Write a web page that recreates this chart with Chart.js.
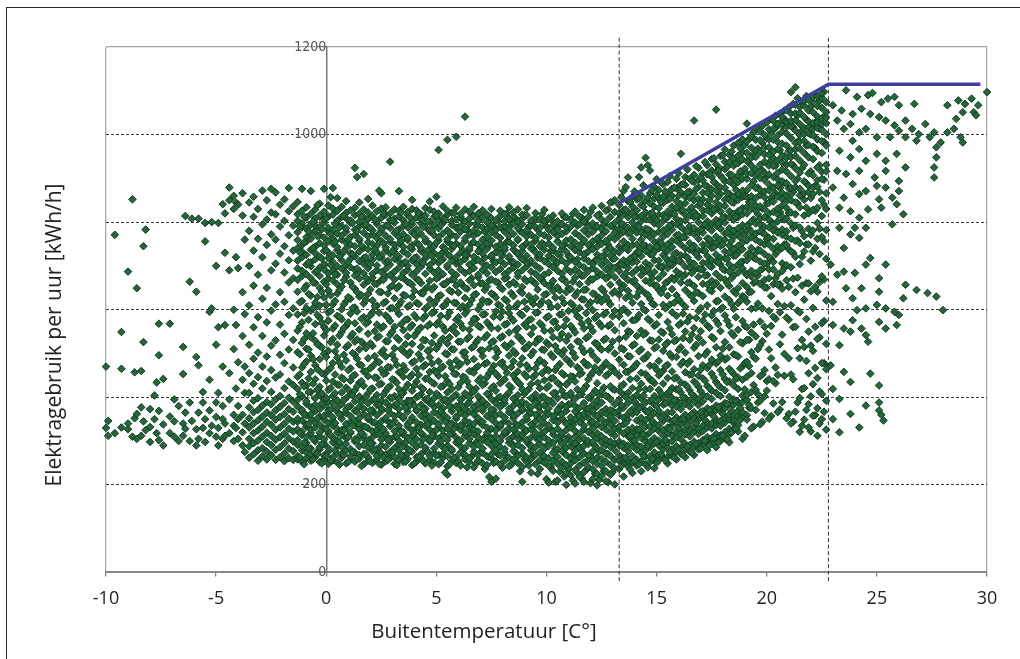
<!DOCTYPE html>
<html><head><meta charset="utf-8">
<script src="https://cdn.jsdelivr.net/npm/chart.js@4.4.1/dist/chart.umd.min.js"></script>
<style>
html,body{margin:0;padding:0;background:#fff;overflow:hidden}
#wrap{position:relative;width:1020px;height:659px}
#frame{position:absolute;left:6px;top:7px;width:1100px;height:800px;border-left:1.5px solid #2a2a2a;border-top:1.5px solid #2a2a2a;pointer-events:none}
canvas{position:absolute;left:0;top:0}
</style></head><body>
<div id="wrap"><canvas id="c" width="1020" height="659"></canvas><div id="frame"></div></div>
<script>
// ---- tick labels / titles ----
const tempTicks = [-10,-5,0,5,10,15,20,25,30];
const usageTicks = [0,200,400,600,800,1000,1200];
const xTitleText = 'Buitentemperatuur [C°]';
const yTitleText = 'Elektragebruik per uur [kWh/h]';

// ---- reference lines ----
const kneeTemps = [13.3, 22.8];
const fitTemps = [13.3, 22.8, 29.7];
const fitUsage = [843, 1115, 1115];

// ---- observations: each row = [temperature, usage, usage, ...] ----
const obsColdSparse = [
[-10.0,470,330],[-9.9,346,312],[-9.6,771,318],[-9.3,549,331,465],[-9.0,687,327,340],
[-8.8,852,310],[-8.7,457,352],[-8.6,649,305,362],[-8.4,377,312,460],[-8.3,745,526,345],
[-8.2,783,325],[-8.0,373,298,332],[-7.8,404,350],[-7.7,434,318],[-7.6,568,496,369,302],
[-7.4,442,338,290],[-7.1,568,356,318],[-6.9,310,345,395],[-6.7,380,300],[-6.5,453,515,340,312],
[-6.4,814,328,365],[-6.2,664,388,300],[-6.1,808,346],[-5.9,641,492,327,290],[-5.8,473,365,305,808],
[-5.6,388,330,412],[-5.5,756,798,350,298],[-5.3,595,440,318,370],[-5.2,603,800,335],
[-5.0,520,388,310,355,700],[-4.9,798,560,410,330,290],[-4.7,841,470,350,305,380],
[-4.6,565,730,820,340,312],[-4.4,879,850,690,455,395,318],[-4.2,860,830,600,510,360,300,335],
[-4.1,565,720,845,420,330],[-4.0,840,695,480,380,305,350],[-3.8,866,815,640,540,440,360,320,290],
[-3.7,760,590,470,410,340,275]
];
const obsColdBand = [
[-3.5,262,288,305,331,352,377,410,455,520,610,700,780,845],
[-3.3,270,295,318,340,366,392,431,488,560,655,735,812,858],
[-3.1,255,279,301,324,347,371,398,446,502,583,680,762,830],
[-2.9,265,284,310,333,356,381,420,470,540,625,720,795,872],
[-2.7,258,276,298,319,344,365,389,437,493,571,650,748,806,850],
[-2.5,268,291,312,337,359,384,412,462,518,598,690,772,822,876],
[-2.3,257,280,303,326,349,370,395,445,530,612,705,760,818,868],
[-2.1,263,286,309,331,355,378,403,452,497,566,640,728,790,840],
[-1.9,254,272,295,317,340,362,387,421,478,545,618,685,745,803,852],
[-1.7,261,283,306,328,351,373,399,436,509,588,662,713,770,825,878],
[-1.5,257,277,299,322,344,367,390,428,468,531,603,672,735,792,836]
];
const obsMildA = [
[-1.3,258,266,291,302,327,344,351,379,394,419,447,503,552,589,641,668,694,712,741,759,777,803,818,846],
[-1.1,253,279,288,314,322,347,366,371,402,433,468,524,571,620,677,689,720,733,748,788,797,826,876],
[-0.9,261,274,296,309,333,338,359,385,391,427,482,511,546,603,655,681,703,725,756,766,785,811,834],
[-0.7,255,269,283,318,326,352,361,377,412,458,495,537,598,632,672,699,708,737,762,773,794,819,871],
[-0.5,264,272,299,305,331,342,368,383,398,441,473,529,567,616,661,686,715,729,744,781,792,808,829],
[-0.3,252,281,286,311,319,337,356,373,405,424,487,518,582,609,650,677,696,721,752,770,789,815,842],
[-0.1,259,267,293,304,329,349,358,381,396,453,499,541,560,628,664,692,704,734,747,765,799,806,824,876],
[0.1,248,276,284,316,323,341,363,370,389,417,462,506,575,594,644,671,683,718,730,757,779,787,813,838],
[0.3,256,263,297,308,335,346,354,387,403,436,478,533,557,612,667,689,709,724,751,763,782,817,831,878],
[0.5,251,272,289,301,319,328,367,376,393,429,491,520,586,637,658,680,699,736,743,774,795,803,826,855],
[0.7,262,270,286,313,325,351,360,384,411,445,469,549,578,601,653,694,713,727,760,769,791,812,835],
[0.9,249,278,294,307,332,339,364,372,398,422,484,514,563,619,675,684,702,740,753,778,786,809,821,848],
[1.1,257,265,282,318,321,344,357,380,407,438,466,538,591,625,662,697,716,729,749,766,798,804,827],
[1.3,253,274,299,304,336,347,369,391,416,451,497,527,569,605,648,678,691,722,745,771,783,816,833,924],
[1.5,260,268,288,311,327,340,352,378,402,433,475,509,555,630,671,688,711,733,758,762,790,801,819,845],
[1.7,247,271,291,306,314,333,362,374,397,426,459,521,583,614,657,683,705,718,741,776,793,811,829,910],
[1.9,255,263,285,302,329,350,355,386,409,448,489,545,572,636,665,695,707,738,754,767,788,807,822,853],
[2.1,250,277,295,309,322,343,366,371,394,420,471,517,594,621,673,682,714,726,750,772,781,814,838],
[2.3,258,266,281,316,326,338,359,383,405,444,481,536,566,609,659,690,701,731,746,763,796,802,825],
[2.5,246,272,290,303,331,345,368,375,392,431,463,502,558,640,668,686,719,724,757,779,785,810,831,866],
[2.7,254,269,287,312,318,349,353,388,414,455,493,528,587,618,676,693,708,735,742,769,792,817,834],
[2.9,261,275,298,305,334,341,364,379,399,425,468,543,574,603,651,679,703,728,755,761,787,805,820,938],
[3.1,248,264,284,310,323,346,357,381,403,439,486,512,561,626,669,687,716,739,748,775,799,808,829],
[3.3,256,279,293,301,328,335,361,373,396,418,457,531,590,611,654,696,710,721,751,766,783,813,826,871],
[3.5,252,267,289,315,320,352,356,385,410,447,472,505,553,634,672,684,706,733,744,772,791,804,835],
[3.7,259,272,282,307,333,339,367,376,392,429,496,539,578,607,663,691,700,726,759,764,788,816,823],
[3.9,245,276,296,313,324,348,354,389,415,452,479,522,565,629,657,680,713,738,747,777,795,802,830,851],
[4.1,253,263,287,304,330,343,369,371,400,436,465,547,581,616,670,688,704,720,753,768,784,811,827],
[4.3,260,270,292,317,319,337,358,383,407,423,488,515,559,638,661,698,709,734,741,773,797,807,818],
[4.5,249,278,285,309,335,350,363,374,395,442,474,530,586,602,647,682,717,725,756,762,789,815,832],
[4.7,257,265,299,302,326,341,355,387,412,458,491,508,567,623,666,694,702,737,750,779,782,801,828,847],
[4.9,251,273,283,311,321,346,366,378,398,431,461,541,595,613,652,685,711,729,745,770,793,812,824],
[5.1,247,268,294,306,332,338,359,382,404,449,482,519,572,631,674,690,707,723,758,766,786,804,820,965],
[5.3,262,271,286,314,324,349,362,375,393,426,470,534,561,608,658,681,715,732,743,774,798,809,836],
[5.5,223,242,266,290,303,329,345,353,388,411,437,498,523,584,620,664,697,701,727,755,761,781,817,826,988],
[5.7,255,277,281,318,317,340,368,377,397,419,467,510,556,641,669,686,712,739,748,771,794,803,821],
[5.9,250,263,297,308,334,351,356,380,406,453,484,546,577,615,655,679,705,720,751,767,787,806,833,995]
];
const obsMildB = [
[6.1,244,274,288,301,325,336,364,384,394,433,476,527,568,604,662,692,709,730,746,778,790,812,819],
[6.3,258,269,284,312,320,347,358,373,409,445,493,503,591,627,650,684,716,725,757,763,784,801,829,1041],
[6.5,252,261,295,305,331,342,367,389,399,424,460,538,554,612,667,688,703,736,741,772,796,808,824],
[6.7,240,276,287,316,327,339,361,378,413,456,487,516,579,633,656,695,710,721,754,769,781,814,835],
[6.9,256,268,292,309,322,348,352,385,402,438,471,532,563,601,674,680,714,733,749,775,792,803,820],
[7.1,249,273,283,302,336,344,369,376,392,428,494,507,589,622,660,691,706,728,743,760,788,811,827],
[7.3,245,265,298,313,319,331,357,383,408,446,479,542,571,618,653,683,701,739,752,766,785,800,817],
[7.5,207,261,270,289,307,328,350,365,372,396,421,463,525,558,637,669,697,719,724,758,777,793,809,830],
[7.7,214,253,280,294,311,324,341,359,387,415,454,491,511,596,628,664,686,708,731,744,771,782,805],
[7.9,247,267,286,300,333,337,362,378,401,432,477,536,583,609,651,693,712,727,750,764,789,814,826],
[8.1,255,274,282,318,321,346,354,386,394,441,468,519,566,624,671,681,704,736,742,778,791,802,818],
[8.3,243,262,296,304,329,340,366,374,411,427,495,548,592,605,657,689,717,722,755,768,783,807,834],
[8.5,258,277,288,311,326,352,358,381,397,450,482,506,575,631,663,696,709,738,747,773,797,813,823],
[8.7,250,266,291,306,316,335,363,389,405,435,459,539,557,614,676,684,703,729,759,761,786,801,829],
[8.9,207,241,272,284,314,332,343,370,373,390,418,489,528,587,638,652,690,715,734,744,776,795,808,817],
[9.1,253,263,299,303,324,349,356,384,414,447,473,513,561,602,665,699,707,723,752,767,781,816,832],
[9.3,228,259,279,290,308,327,338,364,377,398,430,496,544,578,620,668,687,712,740,749,771,792,804],
[9.5,247,268,286,312,319,345,360,388,407,452,466,524,593,627,659,682,701,731,757,763,789,810,821],
[9.7,236,256,274,293,305,333,351,367,379,395,421,485,533,569,611,672,694,718,726,745,774,787,806],
[9.9,251,265,282,309,321,341,355,382,400,439,478,508,552,634,661,680,711,737,748,770,798,803,828],
[10.1,205,243,261,289,301,330,336,362,375,392,426,461,520,585,616,654,685,704,723,751,765,782,809],
[10.3,232,255,273,296,315,322,348,357,386,409,444,492,537,572,643,666,697,716,735,742,777,793,815],
[10.5,210,248,264,281,307,328,342,366,371,398,433,470,506,559,607,651,689,708,728,756,768,784,802],
[10.7,238,253,277,292,313,318,352,361,383,415,455,498,545,590,626,670,682,713,739,747,773,796,820],
[10.9,200,226,245,268,285,302,325,339,369,378,402,429,487,529,577,640,662,693,705,732,758,779,788,811],
[11.1,222,249,260,288,299,331,346,354,385,410,448,476,515,563,615,647,686,714,720,745,761,790,806],
[11.3,203,234,256,278,295,310,323,349,368,380,397,436,491,548,596,632,673,691,709,736,753,775,799,824],
[11.5,218,244,263,286,304,317,343,359,376,405,452,464,526,581,604,658,684,702,731,742,768,795,813],
[11.7,207,229,251,271,289,306,327,335,362,387,419,481,503,557,623,645,678,697,717,727,759,781,801,828],
[11.9,241,258,267,293,300,321,353,364,374,399,441,473,539,574,610,663,688,711,733,748,772,789,812],
[12.1,213,236,254,276,298,314,329,344,370,383,407,457,496,551,599,637,669,695,704,738,756,778,797,833],
[12.3,199,225,248,262,283,307,318,338,357,379,392,432,485,522,586,621,676,687,714,726,744,763,790,815],
[12.5,220,243,259,280,297,311,332,350,366,388,414,466,509,562,618,648,680,703,721,750,770,784,806,837],
[12.7,208,231,253,271,291,303,326,341,363,373,403,449,479,534,593,629,671,692,710,735,757,779,802,826],
[12.9,223,246,266,287,299,319,337,356,371,395,425,469,514,566,612,657,685,700,724,741,765,791,812,845],
[13.1,201,238,257,279,294,312,328,346,365,384,417,458,500,553,597,642,674,696,717,732,761,776,798,823,850]
];
const obsMildMid = [
[-1.2,263,318,407,452,498,561,617,731,790],[-1.0,247,296,361,425,476,533,592,648,754,812],
[-0.8,284,339,412,443,509,577,636,708,779],[-0.6,258,305,374,431,487,546,603,662,741,801],
[-0.4,271,352,418,464,521,588,629,689,768,839],[-0.2,249,293,386,409,455,514,570,641,717,784],
[0.0,266,327,398,438,492,553,611,658,736,809],[0.2,255,313,372,421,467,526,597,633,702,773,857],
[0.4,279,341,409,452,505,564,620,681,755,796],[0.6,246,298,361,428,479,541,584,645,721,788],
[0.8,268,324,393,441,497,558,612,667,733,814],[1.0,252,309,378,417,462,519,571,629,709,761],
[1.2,275,336,404,448,501,545,604,652,727,798],[1.4,259,301,367,425,488,532,596,640,694,779,903],
[1.6,243,318,389,437,473,527,579,633,746,812],[1.8,270,332,401,459,512,568,622,673,720,795],
[2.0,254,295,370,418,466,523,587,646,704,787],[2.2,281,343,396,445,494,551,608,659,738,806],
[2.4,248,316,383,429,480,539,593,641,719,774,872],[2.6,263,327,406,453,508,562,615,668,752,819],
[2.8,257,302,371,422,469,528,582,637,711,792],[3.0,274,339,398,441,497,550,604,655,733,803],
[3.2,245,311,385,433,474,536,599,649,726,781],[3.4,268,322,409,458,510,567,619,674,757,822],
[3.6,253,297,376,421,463,521,577,632,709,796],[3.8,279,345,392,446,503,559,610,661,742,811],
[4.0,249,318,381,427,482,540,588,643,718,772],[4.2,264,330,403,451,498,555,613,668,749,820],
[4.4,256,304,373,419,470,531,580,637,706,789],[4.6,276,338,397,443,506,563,607,652,735,802],
[4.8,244,313,386,434,477,524,592,646,722,780],[5.0,267,325,408,457,511,566,621,671,753,815,858],
[5.2,251,299,368,424,466,529,586,633,712,793],[5.4,228,282,344,395,448,500,552,611,658,739,806],
[5.6,247,315,379,430,479,537,594,644,723,776],[5.8,262,328,402,454,509,561,616,669,746,821],
[6.0,253,301,374,423,471,527,583,639,707,788],[6.2,271,336,399,447,502,558,608,655,736,804],
[6.4,240,312,384,436,481,533,598,648,725,782],[6.6,265,323,410,459,513,569,622,672,751,818],
[6.8,248,297,370,420,467,525,579,636,713,795],[7.0,274,342,394,444,507,560,611,660,740,807],
[7.2,236,309,380,432,476,536,590,645,719,778],[7.4,218,263,326,407,455,512,565,618,667,748,813],
[7.6,250,300,371,425,472,528,584,634,710,791],[7.8,270,335,398,448,503,557,612,662,737,803],
[8.0,239,311,385,437,480,539,595,647,724,785],[8.2,262,320,405,456,514,568,620,673,755,820],
[8.4,246,296,367,422,469,523,581,638,708,794],[8.6,273,339,393,441,500,553,607,658,732,808],
[8.8,231,305,382,430,475,535,591,642,721,780],[9.0,259,321,408,453,511,566,618,670,747,816],
[9.2,244,292,369,419,465,520,576,631,705,789],[9.4,268,333,396,446,504,559,613,664,738,802],
[9.6,225,303,379,433,478,533,594,646,719,783],[9.8,255,318,402,455,509,564,619,668,752,818],
[10.0,213,289,366,421,464,525,582,636,709,790],[10.2,241,327,391,443,498,552,606,657,734,806],
[10.4,207,282,350,410,462,517,573,628,702,779],[10.6,230,301,377,429,476,534,589,644,725,793],
[10.8,219,273,346,404,451,507,562,615,669,748,812],[11.0,237,309,384,435,483,540,597,649,722,785],
[11.2,210,268,337,399,447,501,556,610,664,743,819],[11.4,228,291,362,418,469,528,585,640,715,792],
[11.6,215,277,349,407,455,512,568,624,677,751,810],[11.8,234,300,373,426,474,535,592,646,729,798],
[12.0,204,265,341,398,450,506,561,617,670,744,823],[12.2,226,289,360,415,468,524,581,635,712,786],
[12.4,212,276,352,405,457,513,569,627,680,756,818],[12.6,232,297,366,422,472,531,589,642,723,794],
[12.8,206,271,345,401,453,509,563,620,675,749,829],[13.0,229,292,368,419,466,527,585,638,716,790,846]
];
const obsWarmA = [
[13.3,236,255,268,291,299,324,333,358,370,394,415,449,486,533,585,634,662,689,703,731,744,770,785,808,820,839],
[13.5,219,249,261,284,294,317,338,353,376,406,430,474,509,569,602,655,677,702,713,741,756,778,794,818,828,871],
[13.7,242,255,277,290,311,325,349,361,387,410,458,494,551,593,643,668,696,709,736,748,774,787,811,823,848,902],
[13.9,227,251,266,288,301,321,330,362,372,398,421,466,518,576,616,664,683,708,720,747,762,784,799,822,836,858],
[14.1,244,257,280,292,314,327,347,366,383,405,443,477,540,579,630,655,692,710,731,749,776,790,813,827,852],
[14.3,231,253,274,287,307,322,341,353,378,397,431,456,509,552,613,646,679,695,722,739,760,776,802,814,839,861,925],
[14.5,246,264,279,299,311,333,348,369,388,418,453,490,546,598,637,666,688,707,734,746,771,785,807,822,849,947],
[14.7,252,265,286,298,320,334,355,371,391,419,440,472,530,575,625,661,683,701,727,743,766,781,806,819,843,866,918],
[14.9,238,260,274,295,307,329,341,364,383,403,432,471,512,563,611,656,686,713,733,755,773,797,809,835,854,880],
[15.1,257,268,290,300,323,336,359,369,395,417,450,483,532,588,645,672,699,712,740,756,778,793,817,832,855,873],
[15.3,261,281,293,312,325,346,359,383,400,431,461,506,547,611,648,682,699,725,740,767,781,803,816,844,858,886],
[15.5,249,264,286,297,318,331,352,365,389,409,444,474,525,572,632,664,695,711,734,749,773,787,811,824,851,866,892],
[15.7,266,280,299,312,335,344,366,381,399,421,459,492,544,594,647,673,702,716,743,758,783,796,820,835,860,876],
[15.9,258,275,288,308,321,342,354,378,393,418,445,492,531,586,633,674,688,712,730,757,770,795,808,833,848,877,899],
[16.1,271,285,304,317,338,350,373,386,411,434,475,514,569,617,662,681,709,724,749,764,789,802,826,841,868,885,956],
[16.3,263,282,294,315,327,348,360,384,398,429,457,502,550,607,645,680,698,723,740,765,780,804,817,843,858,885,903],
[16.5,276,291,311,323,344,356,379,392,416,452,482,531,583,635,662,696,710,737,752,777,791,815,828,855,870,899],
[16.7,268,287,299,321,332,354,366,390,403,436,464,513,558,620,654,690,705,732,746,773,786,811,823,850,865,892,908,1032],
[16.9,281,295,316,328,349,360,382,395,424,449,494,536,597,638,675,694,720,735,762,776,800,813,838,853,880,896,924],
[17.1,289,302,323,335,356,368,391,406,443,473,525,575,631,659,692,707,736,749,776,789,814,827,852,867,895,911],
[17.3,279,298,309,331,342,364,375,402,426,467,504,564,610,657,679,707,723,750,763,789,802,827,840,867,882,909,930],
[17.5,294,307,329,340,362,373,396,415,454,486,538,587,642,666,698,713,741,755,781,795,820,833,860,875,903,918,944],
[17.7,286,303,316,337,349,371,381,410,435,477,514,575,619,661,682,710,726,753,767,792,805,830,845,872,887,915,932,1057],
[17.9,300,313,335,346,368,379,403,423,462,495,551,601,650,673,703,718,746,760,785,799,824,837,864,879,906,922,951],
[18.1,306,320,342,352,375,387,416,442,486,526,587,630,669,690,717,733,760,774,799,812,837,851,878,893,921,938,966],
[18.3,297,316,328,350,361,384,401,436,465,514,564,622,654,687,703,731,747,773,786,811,825,851,865,893,909,937,954],
[18.5,341,327,348,359,383,395,427,453,498,541,602,642,678,696,723,739,766,780,805,819,844,858,885,901,929,945,975],
[18.7,322,336,357,369,389,419,445,493,554,615,649,685,703,730,746,772,786,811,825,851,864,891,907,935,952,981],
[18.9,305,355,366,389,404,440,471,523,574,631,661,694,710,738,753,779,793,818,832,858,872,899,915,943,960,989]
];
const obsWarmB = [
[19.1,359,349,394,405,447,481,531,560,618,652,679,713,724,758,781,792,820,835,858,873,899,911,940,958,984,1025],
[19.3,329,375,412,455,503,548,602,641,676,689,723,741,766,778,801,830,847,859,884,912,929,947,970,997],
[19.5,371,417,488,539,604,664,683,716,730,760,774,797,826,838,855,878,906,920,949,963,988],
[19.7,338,392,448,519,573,659,690,710,735,754,779,795,808,836,862,873,901,917,931,960,987,1008],
[19.9,402,364,462,561,651,668,705,727,749,773,789,811,830,857,870,896,912,938,955,971,999],
[20.1,351,441,509,597,672,692,720,749,764,788,806,820,844,873,886,909,929,954,971,989,1012],
[20.3,437,386,584,658,692,709,739,762,781,795,823,847,862,879,903,928,946,961,988,1013,1031],
[20.5,366,451,613,657,681,734,745,776,802,818,831,858,884,898,913,941,967,983,998,1024],
[20.7,389,543,648,688,706,741,771,783,813,838,853,867,893,920,936,951,979,1006,1020,1040],
[20.9,352,582,667,702,748,766,779,808,832,848,861,889,915,931,947,975,1002,1017,1029,1056],
[21.1,340,452,610,697,733,762,797,822,850,863,878,905,933,949,964,992,1019,1031,1048,1097],
[21.3,367,561,640,721,757,792,818,845,880,894,923,951,966,981,1009,1033,1048,1068,1108],
[21.5,321,398,489,594,704,752,788,834,861,876,913,941,968,984,999,1024,1050,1063],
[21.7,349,421,515,623,733,768,815,851,866,893,931,958,986,1001,1015,1040,1066,1077],
[21.9,331,384,455,550,660,749,785,820,868,883,911,948,976,1003,1017,1030,1055,1079],
[22.1,358,430,506,604,733,781,828,864,879,907,944,972,999,1013,1026,1051,1075,1086],
[22.3,312,375,444,533,641,762,798,833,881,896,925,962,989,1015,1028,1041,1065,1087],
[22.5,350,407,478,569,676,766,814,850,899,915,958,985,1011,1024,1037,1061,1084,1094],
[22.7,326,392,464,522,621,716,782,830,866,916,931,975,1001,1026,1039,1051,1074]
];
const obsWarmMid = [
[13.4,243,289,382,425,512,597,648,703,797,857],[13.6,262,341,401,458,538,627,683,741,829,880],
[13.8,235,312,368,441,493,549,630,717,776,846],[14.0,254,301,390,470,521,576,667,722,812,870],
[14.2,247,326,375,419,505,588,641,731,789,854,903],[14.4,266,315,404,488,543,601,690,748,835,884],
[14.6,240,289,366,447,497,579,634,693,783,856,930],[14.8,259,345,395,438,529,614,672,726,821,873],
[15.0,250,298,381,463,515,567,655,744,804,862,898],[15.2,270,352,409,457,550,638,697,753,846,891],
[15.4,256,303,386,471,520,603,661,719,811,870],[15.6,275,327,414,499,557,612,705,792,853,905],
[15.8,262,348,393,443,528,616,668,727,819,879],[16.0,281,329,419,508,565,624,712,771,860,912],
[16.2,268,351,400,481,535,591,676,766,827,887],[16.4,287,337,424,476,573,661,719,780,868,920],
[16.6,274,362,407,452,543,630,684,741,834,894],[16.8,293,341,431,520,581,640,727,815,876,928],
[17.0,283,366,414,463,551,604,692,783,842,902],[17.2,300,348,438,497,589,678,734,795,884,937],
[17.4,290,371,421,474,559,645,700,761,850,910],[17.6,306,356,445,534,597,656,742,829,892,946],
[17.8,297,378,428,482,567,620,708,797,858,918],[18.0,312,362,452,511,605,693,749,810,900,953],
[18.2,304,385,435,489,575,661,716,776,866,926],[18.4,319,369,459,547,613,672,757,846,908,961],
[18.6,329,392,442,496,583,637,724,812,874,934],[18.8,348,376,466,526,621,708,765,827,916,969],
[19.0,312,418,478,563,628,685,772,859,922,976],[19.2,376,383,471,531,640,729,785,846,935,990],
[19.4,333,428,492,566,661,719,806,893,954,1005],[19.6,388,407,510,614,678,737,818,879,968,1012],
[19.8,344,452,528,603,693,776,831,918,981,1020],[20.0,415,437,545,650,705,761,843,905,992,1028],
[20.2,357,489,563,631,716,801,855,941,1004,1035],[20.4,432,468,579,672,727,783,866,929,1015,1043],
[20.6,372,521,594,658,738,823,878,964,1026,1048],[20.8,449,499,608,696,749,806,889,951,1036,1055],
[21.0,362,489,577,652,738,821,877,962,1024,1062],[21.2,344,441,560,671,730,787,869,930,1017,1070],
[21.4,388,512,598,673,758,843,899,984,1044,1083],[21.6,335,419,531,655,721,779,862,923,1009,1075],
[21.8,371,483,579,661,749,833,889,975,1034,1088],[22.0,322,402,518,642,712,771,855,916,1000,1064],
[22.2,359,467,561,652,741,826,883,969,1027,1091],[22.4,340,413,537,663,727,785,869,930,1013,1077],
[22.6,367,478,574,669,756,840,897,983,1041,1098]
];
const obsHotSparse = [
[23.6,1101],[24.1,1086],[24.6,1090],[24.8,1095],[25.2,1074],[25.5,1082],[25.8,1086],[26.0,1067],[26.7,1070],
[28.2,1067],[28.7,1078],[29.0,1070],[29.3,1082],[29.6,1067],[29.4,1051],[28.9,1051],[29.5,1044],[28.6,1036],
[30.0,1097],[23.0,1067],[23.4,1055],[23.9,1047],[24.3,1059],[24.7,1047],[25.1,1040],
[23.2,1032],[23.5,1013],[23.8,1024],[24.2,1005],[24.5,1013],[25.0,994],[25.4,1032],[25.8,1021],[26.0,1009],
[26.3,1032],[26.6,1013],[26.9,1001],[27.2,1024],[27.4,994],[27.6,1005],[27.9,982],[28.2,1005],[28.5,1013],
[28.8,994],[28.9,982],[26.8,986],[26.3,994],[27.7,971],[25.6,994],[23.9,986],
[23.3,963],[23.8,948],[24.2,967],[24.5,940],[25.0,956],[25.4,940],[25.9,956],[26.3,925],[27.6,925],[27.6,902],
[27.7,948],[23.2,917],[23.6,910],[24.2,917],[24.9,902],[25.4,917],[26.0,894],
[23.0,879],[23.5,856],[23.9,887],[24.2,864],[24.5,871],[25.0,883],[25.1,852],[25.4,879],[25.7,856],[25.9,841],
[26.0,871],[26.2,818],[23.8,825],[24.2,810],[23.3,833],[24.6,829],[25.2,833],[25.7,795],
[23.5,741],[23.8,772],[24.0,787],[24.2,764],[24.5,787],[23.3,787],
[22.9,703],[23.2,680],[23.5,687],[24.0,684],[24.5,703],[24.7,718],[25.1,672],[25.4,703],[25.1,641],[24.3,649],
[23.9,626],[23.6,649],[26.3,657],[26.8,645],[27.3,638],[27.7,630],[28.0,599],[26.2,626],[23.0,618],[24.1,599],
[24.5,603],[25.0,611],[25.4,603],[25.8,595],
[23.0,565],[23.5,557],[23.8,550],[23.9,576],[24.3,557],[24.5,542],[25.1,572],[25.4,557],[25.9,565],[26.0,588],
[24.6,527],[23.3,519],
[22.9,473],[23.5,458],[23.8,435],[24.7,454],[25.1,427],[23.0,419],[23.3,396],
[24.5,381],[25.1,370],[25.3,347],[23.3,320],[24.2,331],[23.8,362],[23.0,350],[25.1,388],[25.2,360]
];

function rowsToPoints(groups){
  const pts = [];
  groups.forEach(rows => rows.forEach(r => {
    for (let i = 1; i < r.length; i++) pts.push({x: r[0], y: r[i]});
  }));
  return pts;
}
const scatterPoints = rowsToPoints([obsColdSparse, obsColdBand, obsMildA, obsMildMid, obsMildB, obsWarmA, obsWarmMid, obsWarmB, obsHotSparse]);

const kneeDatasets = kneeTemps.map(t => ({
  type: 'scatter', showLine: true, order: 0, clip: false,
  data: [{x: t, y: -20}, {x: t, y: 1222}],
  borderColor: '#333', borderWidth: 1, borderDash: [4, 2.5], pointRadius: 0
}));

const titlePlugin = {
  id: 'axisTitles',
  afterDraw(chart) {
    const ctx = chart.ctx;
    ctx.save();
    ctx.font = '20.5px "Open Sans"';
    ctx.fillStyle = '#222';
    ctx.textAlign = 'center';
    ctx.textBaseline = 'middle';
    ctx.fillText(xTitleText, 484, 632);
    ctx.translate(55, 335);
    ctx.rotate(-Math.PI / 2);
    ctx.font = '21px "Open Sans"';
    ctx.fillText(yTitleText, 0, 0);
    ctx.restore();
  }
};

new Chart(document.getElementById('c'), {
  type: 'scatter',
  data: {
    datasets: [
      {
        label: 'Fit', order: 0, showLine: true, clip: false,
        data: fitTemps.map((t, i) => ({x: t, y: fitUsage[i]})),
        borderColor: '#3d3da2', borderWidth: 3.5, pointRadius: 0, fill: false
      },
      ...kneeDatasets,
      {
        label: 'Uurwaarden', order: 2, clip: false,
        data: scatterPoints,
        pointStyle: 'rectRot', pointRadius: 3.8,
        pointBackgroundColor: '#1f6b38', pointBorderColor: '#1b3323', pointBorderWidth: 1
      }
    ]
  },
  options: {
    responsive: false, animation: false, devicePixelRatio: 1, events: [],
    layout: {padding: {left: 106, right: 33, top: 47, bottom: 37}},
    plugins: {legend: {display: false}, tooltip: {enabled: false}},
    scales: {
      x: {
        type: 'linear', position: 'bottom', min: -10, max: 30,
        afterBuildTicks: s => { s.ticks = tempTicks.map(v => ({value: v})); },
        ticks: {color: '#222', font: {family: '"Open Sans"', size: 18}, padding: 12, maxRotation: 0, callback: v => String(v)},
        grid: {
          drawOnChartArea: true, drawTicks: true, tickLength: 4, tickColor: '#777', tickWidth: 1.2,
          color: c => (c.tick && (c.tick.value === -10 || c.tick.value === 30)) ? '#a8a8a8' : 'rgba(0,0,0,0)',
          lineWidth: 1.3
        },
        border: {display: true, color: '#888', width: 2},
        title: {display: false}
      },
      y: {
        type: 'linear', position: {x: 0}, min: 0, max: 1200,
        afterBuildTicks: s => { s.ticks = usageTicks.map(v => ({value: v})); },
        ticks: {color: '#555', font: {family: '"Liberation Sans Narrow", "DejaVu Sans Condensed", sans-serif', size: 14}, padding: 2, callback: v => String(v)},
        grid: {
          drawOnChartArea: true, drawTicks: true, tickLength: 8, tickColor: '#777', tickWidth: 1,
          color: c => {
            if (!c.tick) return '#444';
            if (c.tick.value === 0) return 'rgba(0,0,0,0)';
            if (c.tick.value === 1200) return '#a8a8a8';
            return '#3a3a3a';
          },
          lineWidth: c => (c.tick && c.tick.value === 1200) ? 1.3 : 1
        },
        border: {
          display: true, color: '#7a7a7a', width: 1.5,
          dash: c => (c.tick && c.tick.value > 0 && c.tick.value < 1200) ? [3, 2] : []
        }
      }
    }
  },
  plugins: [titlePlugin]
});
</script>
</body></html>
